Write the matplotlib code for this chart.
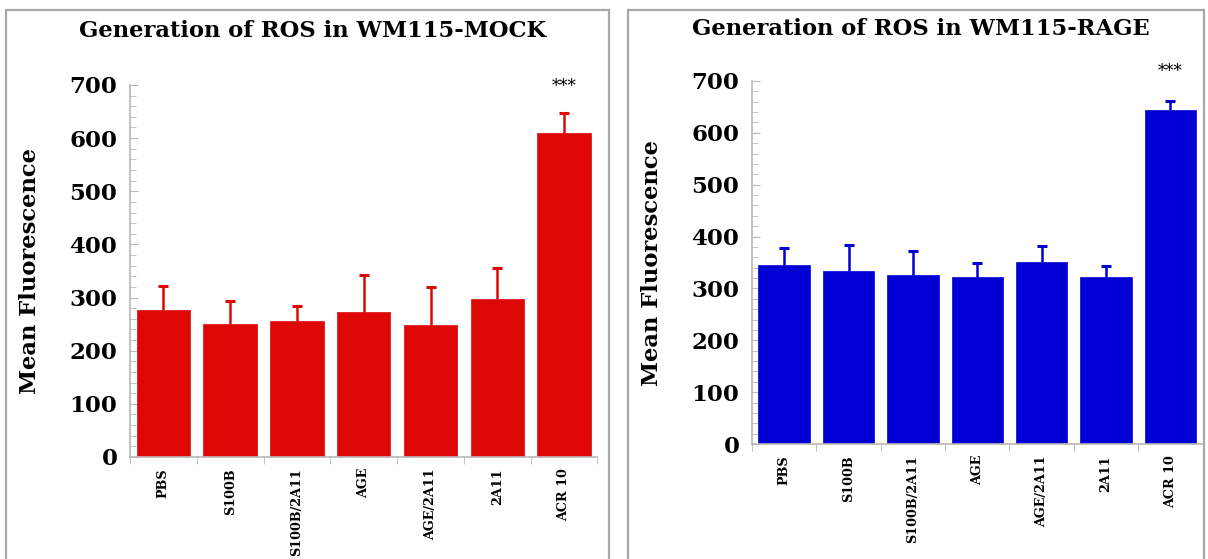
import matplotlib
matplotlib.use("Agg")
import matplotlib.pyplot as plt
from matplotlib.patches import Rectangle
from matplotlib import ticker
import numpy as np

plt.rcParams['font.family'] = 'DejaVu Serif'

categories = ['PBS', 'S100B', 'S100B/2A11', 'AGE', 'AGE/2A11', '2A11', 'ACR 10']

mock_mean = [277, 250, 255, 272, 248, 297, 610]
mock_err = [45, 44, 29, 71, 72, 59, 37]

rage_mean = [346, 333, 326, 323, 351, 323, 645]
rage_err = [32, 51, 47, 26, 30, 21, 17]

panels = [
    dict(title='Generation of ROS in WM115-MOCK', mean=mock_mean, err=mock_err,
         color='#dd0806', box=(0.005, -0.03), box_w=0.499, rect=[0.1076, 0.1825, 0.387, 0.6655],
         title_y=0.945, ylab_x=0.025, star=697),
    dict(title='Generation of ROS in WM115-RAGE', mean=rage_mean, err=rage_err,
         color='#0000d4', box=(0.52, -0.03), box_w=0.477, rect=[0.6225, 0.2057, 0.373, 0.6494],
         title_y=0.948, ylab_x=0.54, star=718),
]

fig = plt.figure(figsize=(12.08, 5.59), dpi=100)

for p in panels:
    # grey frame round each panel (open at the bottom, runs off the image)
    fig.patches.append(Rectangle(p['box'], p['box_w'], 0.982 - p['box'][1],
                                 transform=fig.transFigure, fill=False,
                                 edgecolor='#a8a8a8', linewidth=1.6, zorder=0))
    cx = p['box'][0] + p['box_w'] / 2
    fig.text(cx + 0.004, p['title_y'], p['title'], ha='center', va='center',
             fontsize=16.3, fontweight='bold')

    ax = fig.add_axes(p['rect'])
    x = np.arange(len(categories))
    mean = np.array(p['mean'])
    err = np.array(p['err'])
    ax.bar(x, mean, width=0.8, color=p['color'], edgecolor=p['color'],
           linewidth=0.5, zorder=2)
    # upper error only
    ax.vlines(x, mean, mean + err, color=p['color'], linewidth=1.8, zorder=3)
    ax.plot(x, mean + err, ls='none', marker='_', ms=7, mew=2.2,
            color=p['color'], zorder=3)
    ax.text(x[-1], p['star'], '***', ha='center', va='center', fontsize=12,
            fontweight='normal')

    ax.set_xlim(-0.5, len(categories) - 0.5)
    ax.set_ylim(0, 700)
    for s in ['top', 'right']:
        ax.spines[s].set_visible(False)
    for s in ['left', 'bottom']:
        ax.spines[s].set_color('#b8b8b8')
        ax.spines[s].set_linewidth(1.2)

    ax.yaxis.set_major_locator(ticker.MultipleLocator(100))
    ax.yaxis.set_minor_locator(ticker.MultipleLocator(20))
    ax.tick_params(axis='y', which='both', direction='in', colors='#b8b8b8',
                   labelcolor='black', labelsize=16.5, pad=9)
    ax.tick_params(axis='y', which='major', length=6)
    ax.tick_params(axis='y', which='minor', length=4)
    for lab in ax.get_yticklabels():
        lab.set_fontweight('bold')

    # category ticks sit between the bars
    ax.set_xticks(np.arange(len(categories) + 1) - 0.5, minor=True)
    ax.set_xticks(x)
    ax.set_xticklabels(categories, rotation=90, fontsize=9.2, fontweight='bold')
    ax.tick_params(axis='x', which='major', length=0, pad=8)
    ax.tick_params(axis='x', which='minor', length=5, color='#b8b8b8', direction='out')

    fig.text(p['ylab_x'], p['rect'][1] + p['rect'][3] / 2, 'Mean Fluorescence',
             rotation=90, ha='center', va='center', fontsize=16.3, fontweight='bold')

plt.savefig('out.png', dpi=100)
